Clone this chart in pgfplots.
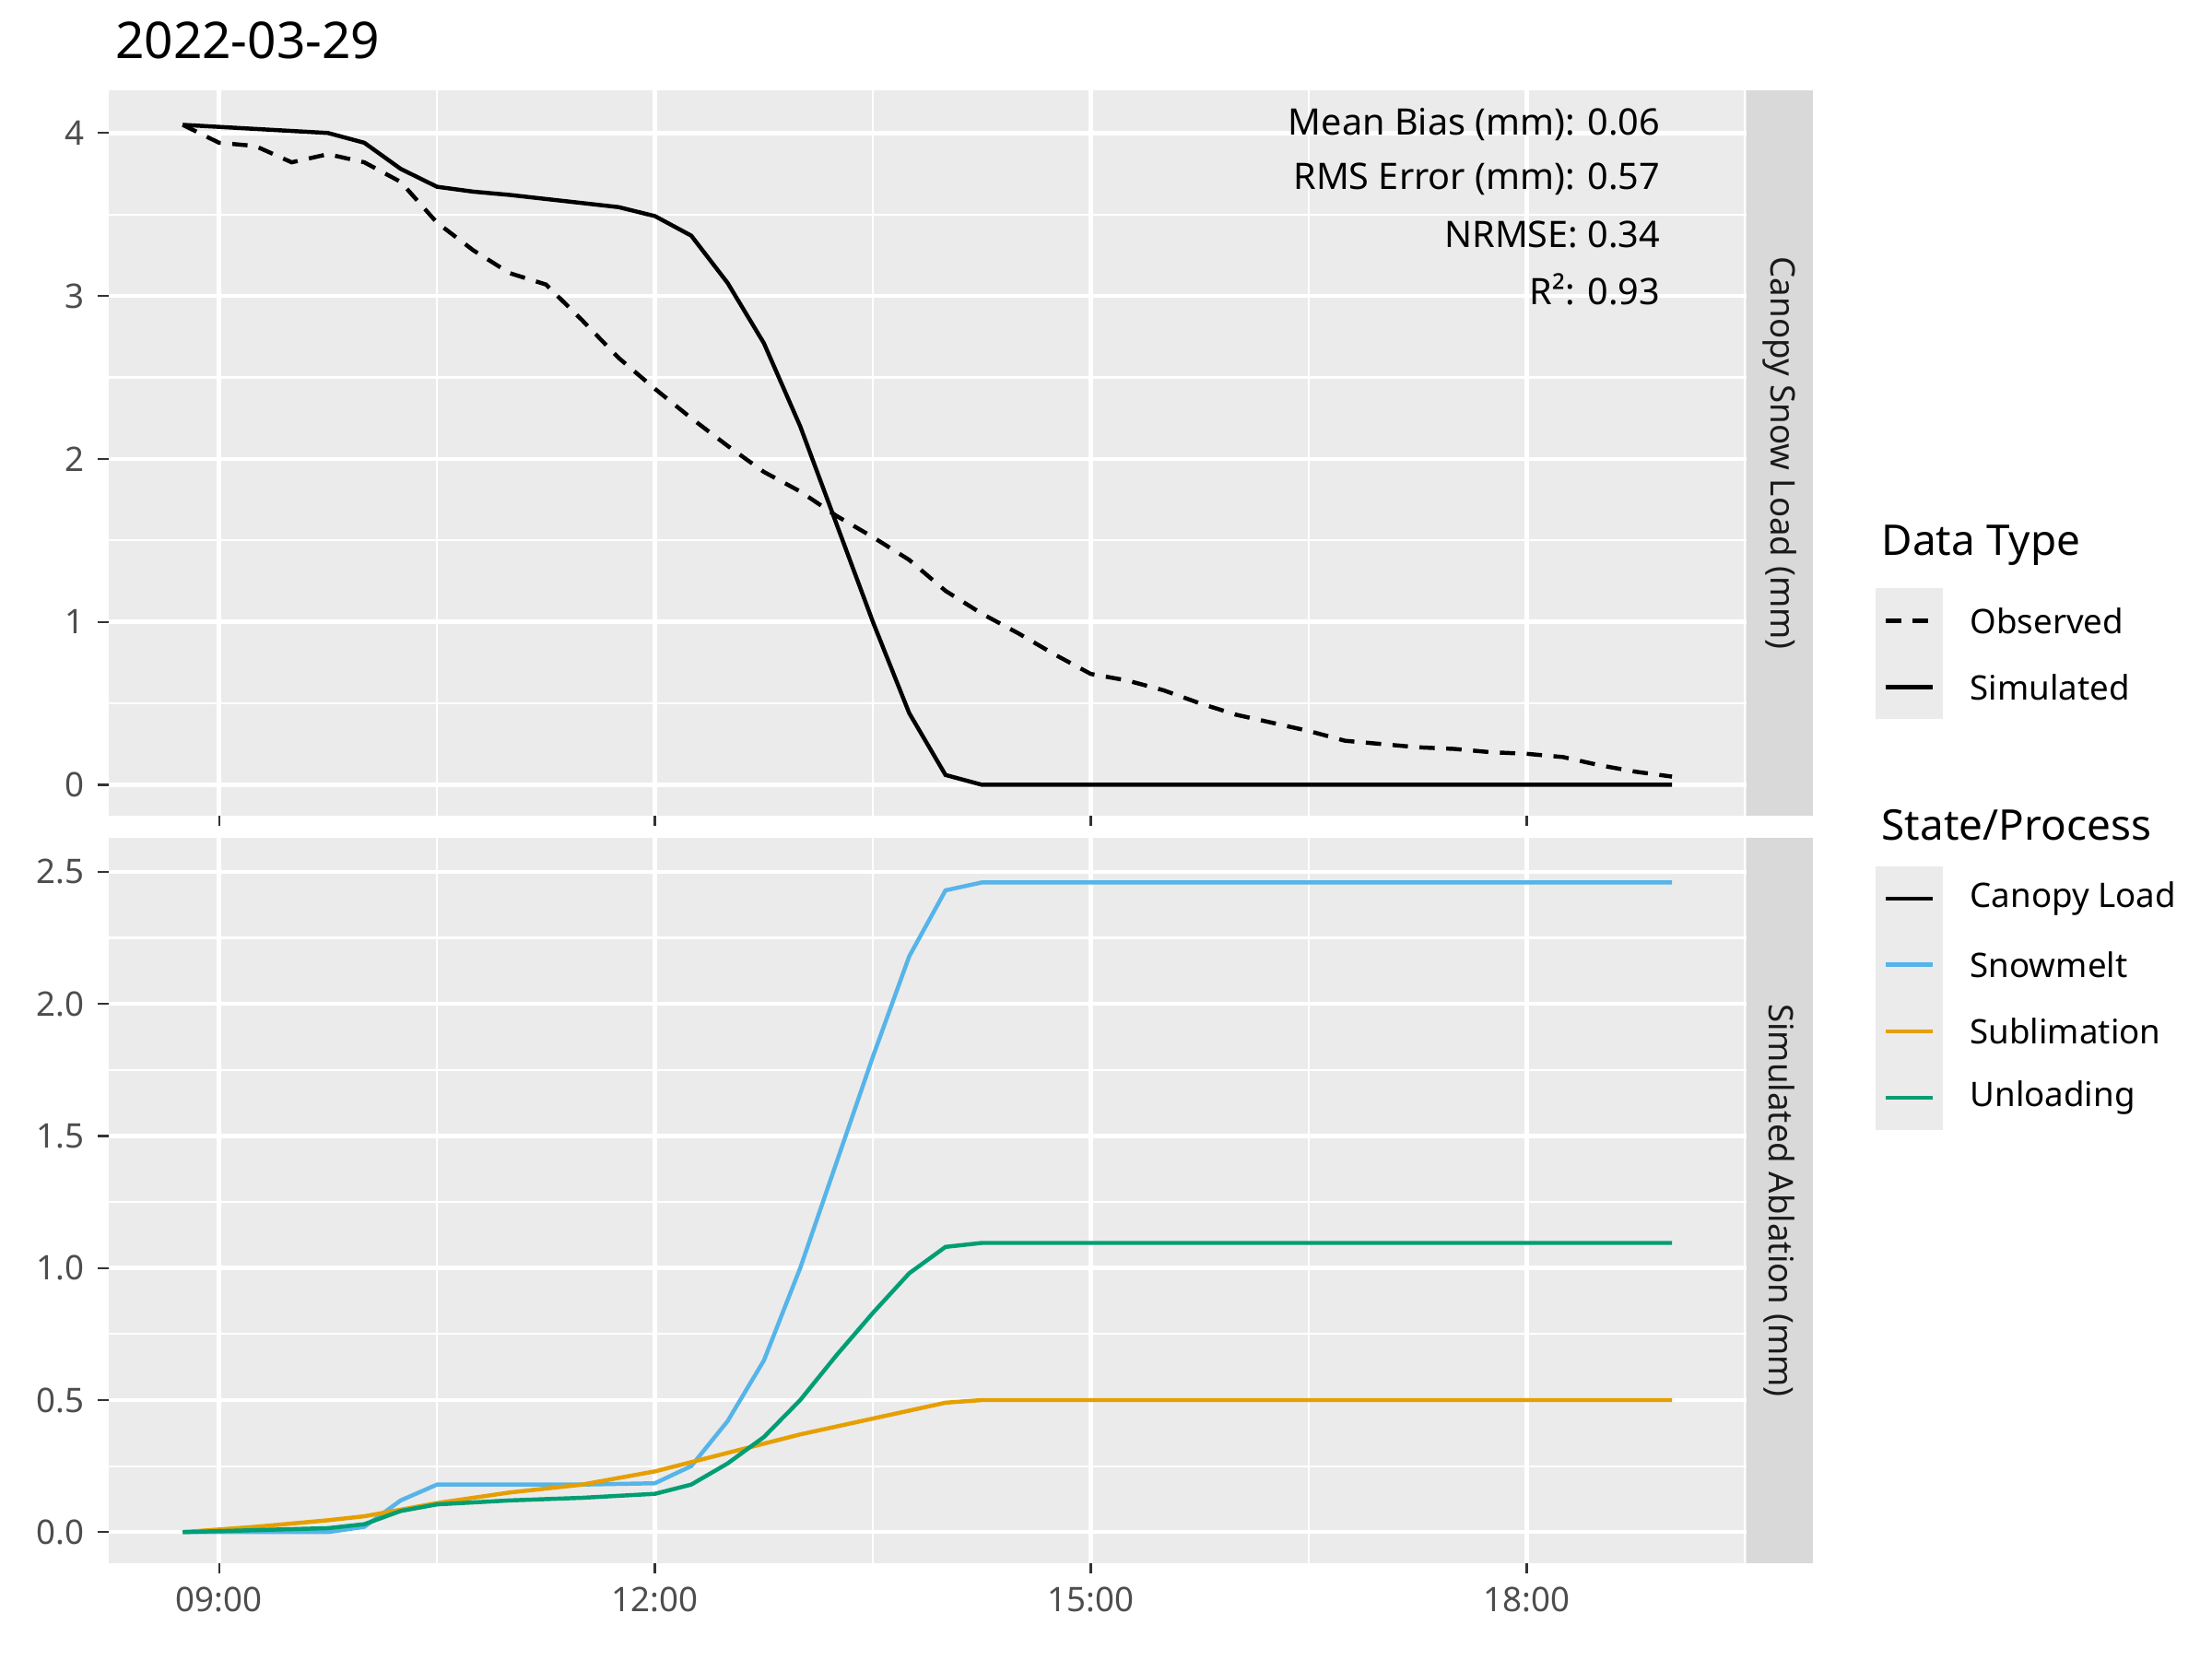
\documentclass[border=0pt]{standalone}
\usepackage{pgfplots}
\pgfplotsset{compat=1.18}
\usepackage{fontspec}
\setmainfont{Noto Sans}
\definecolor{panel}{HTML}{EBEBEB}
\definecolor{strip}{HTML}{D9D9D9}
\definecolor{melt}{HTML}{56B4E9}
\definecolor{subl}{HTML}{E69F00}
\definecolor{unl}{HTML}{009E73}
\definecolor{tick}{HTML}{4D4D4D}
\definecolor{stxt}{HTML}{1A1A1A}
\pgfplotsset{
 base/.style={scale only axis, width=426.4pt, height=188.8pt,
  anchor=south west, axis background/.style={fill=panel},
  axis line style={draw=none},
  xmin=8.24, xmax=19.51,
  xtick={9,12,15,18}, minor xtick={7.5,10.5,13.5,16.5,19.5},
  grid=both, major grid style={white,line width=1.07pt},
  minor grid style={white,line width=0.53pt},
  tick align=outside, major tick length=2.75pt, minor tick length=0pt,
  tick style={color=black!80, line width=0.53pt},
  xtick pos=bottom, ytick pos=left,
  ticklabel style={font=\fontsize{8.8}{10}\selectfont, color=tick},
  /pgf/number format/assume math mode=true,
  every axis plot/.append style={line width=1.07pt, mark=none},
 }}
\begin{document}
\begin{tikzpicture}
\useasboundingbox (0,0) rectangle (576pt,432pt);
\begin{axis}[base, at={(28.28pt,219.6pt)}, ymin=-0.19, ymax=4.26,
  ytick={0,1,2,3,4}, minor ytick={0.5,1.5,2.5,3.5}, xticklabels={}]
\addplot[black] coordinates {(8.75,4.05)(9.75,4.0)(10,3.94)(10.25,3.78)(10.5,3.67)(10.75,3.64)(11,3.62)(11.25,3.595)(11.5,3.57)(11.75,3.545)(12,3.49)(12.25,3.37)(12.5,3.08)(12.75,2.71)(13,2.2)(13.25,1.6)(13.5,1.0)(13.75,0.44)(14,0.06)(14.25,0)(19,0)};
\addplot[black,dashed,dash pattern=on 4pt off 3pt] coordinates {(8.75,4.05)(9,3.94)(9.25,3.92)(9.5,3.82)(9.75,3.87)(10,3.82)(10.25,3.7)(10.5,3.45)(10.75,3.28)(11,3.14)(11.25,3.07)(11.5,2.85)(11.75,2.62)(12,2.43)(12.25,2.25)(12.5,2.08)(12.75,1.92)(13,1.8)(13.25,1.65)(13.5,1.52)(13.75,1.38)(14,1.19)(14.25,1.05)(14.5,0.93)(14.75,0.8)(15,0.68)(15.25,0.64)(15.5,0.58)(15.75,0.5)(16,0.43)(16.25,0.38)(16.5,0.33)(16.75,0.27)(17,0.25)(17.25,0.23)(17.5,0.22)(17.75,0.2)(18,0.19)(18.25,0.17)(18.5,0.12)(18.75,0.08)(19,0.05)};
\end{axis}
\begin{axis}[base, at={(28.28pt,24.98pt)}, ymin=-0.1175, ymax=2.628,
  ytick={0,0.5,1,1.5,2,2.5}, minor ytick={0.25,0.75,1.25,1.75,2.25},
  yticklabels={0.0,0.5,1.0,1.5,2.0,2.5},
  xticklabels={09:00,12:00,15:00,18:00}]
\addplot[melt] coordinates {(8.75,0)(9.75,0)(10,0.02)(10.25,0.12)(10.5,0.18)(11,0.18)(11.5,0.18)(12,0.185)(12.25,0.25)(12.5,0.42)(12.75,0.65)(13,1.0)(13.25,1.4)(13.5,1.8)(13.75,2.18)(14,2.43)(14.25,2.46)(19,2.46)};
\addplot[subl] coordinates {(8.75,0)(9.25,0.02)(9.75,0.045)(10,0.06)(10.5,0.11)(11,0.15)(11.5,0.18)(12,0.23)(12.5,0.3)(13,0.37)(13.5,0.43)(14,0.49)(14.25,0.5)(19,0.5)};
\addplot[unl] coordinates {(8.75,0)(9.75,0.015)(10,0.03)(10.25,0.08)(10.5,0.105)(11,0.12)(11.5,0.13)(12,0.145)(12.25,0.18)(12.5,0.26)(12.75,0.36)(13,0.5)(13.25,0.67)(13.5,0.83)(13.75,0.98)(14,1.08)(14.25,1.095)(19,1.095)};
\end{axis}
% strips
\fill[strip] (454.7pt,219.6pt) rectangle (472.0pt,408.4pt);
\fill[strip] (454.7pt,24.98pt) rectangle (472.0pt,213.8pt);
\node[rotate=-90,color=stxt,font=\fontsize{8.8}{10}\selectfont] at (463.35pt,314pt) {Canopy Snow Load (mm)};
\node[rotate=-90,color=stxt,font=\fontsize{8.8}{10}\selectfont] at (463.35pt,119.4pt) {Simulated Ablation (mm)};
% title
\node[anchor=west,font=\fontsize{13.2}{15}\selectfont] at (26.5pt,421.5pt) {2022-03-29};
% stats
\begin{scope}[every node/.style={anchor=east,font=\fontsize{9.5}{11}\selectfont}]
\node at (435.8pt,399.7pt) {Mean Bias (mm): 0.06};
\node at (435.8pt,385.4pt) {RMS Error (mm): 0.57};
\node at (435.8pt,371.0pt) {NRMSE: 0.34};
\node at (435.8pt,356.7pt) {R²: 0.93};
\end{scope}
% legends
\begin{scope}[every node/.style={anchor=west,font=\fontsize{8.8}{10}\selectfont}]
\node[font=\fontsize{11}{13}\selectfont] at (486.5pt,289.9pt) {Data Type};
\fill[panel] (488.5pt,244.7pt) rectangle (505.8pt,278.8pt);
\draw[black,line width=1.07pt,dash pattern=on 4pt off 3pt] (491pt,270.4pt)--(503.3pt,270.4pt);
\draw[black,line width=1.07pt] (491pt,253.1pt)--(503.3pt,253.1pt);
\node at (509.5pt,270.4pt) {Observed};
\node at (509.5pt,253.1pt) {Simulated};
\node[font=\fontsize{11}{13}\selectfont] at (486.5pt,217.1pt) {State/Process};
\fill[panel] (488.5pt,137.8pt) rectangle (505.8pt,206.5pt);
\draw[black,line width=1.07pt] (491pt,198.0pt)--(503.3pt,198.0pt);
\draw[melt,line width=1.07pt] (491pt,180.8pt)--(503.3pt,180.8pt);
\draw[subl,line width=1.07pt] (491pt,163.5pt)--(503.3pt,163.5pt);
\draw[unl,line width=1.07pt] (491pt,146.2pt)--(503.3pt,146.2pt);
\node at (509.5pt,198.0pt) {Canopy Load};
\node at (509.5pt,180.8pt) {Snowmelt};
\node at (509.5pt,163.5pt) {Sublimation};
\node at (509.5pt,146.2pt) {Unloading};
\end{scope}
\end{tikzpicture}
\end{document}
